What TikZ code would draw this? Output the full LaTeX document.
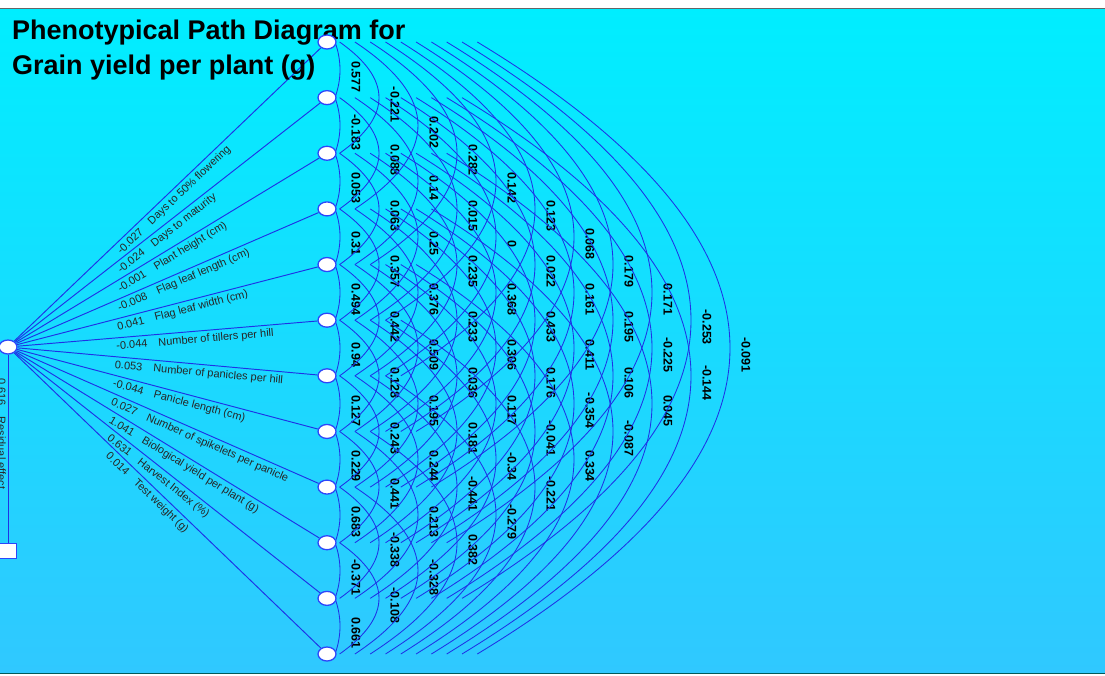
\documentclass[tikz,border=0pt]{standalone}
\usepackage{fontspec}
\setmainfont{Liberation Sans}
\usetikzlibrary{shapes.geometric}
\definecolor{bgtop}{RGB}{0,238,255}
\definecolor{bgbot}{RGB}{48,200,255}
\definecolor{edge}{RGB}{30,50,230}
\definecolor{nodeedge}{RGB}{45,70,250}
\pgfdeclarelayer{back}
\pgfdeclarelayer{wires}
\pgfsetlayers{back,wires,main}
\begin{document}
\begin{tikzpicture}[x=1pt,y=-1pt,
  trait/.style={ellipse, draw=nodeedge, fill=white, line width=1.3pt, minimum width=18pt, minimum height=14pt, inner sep=0pt},
  resid/.style={rectangle, draw=nodeedge, fill=white, line width=1.3pt, minimum width=17pt, minimum height=15pt, inner sep=0pt},
  conn/.style={draw=edge, line width=0.95pt},
  corr/.style={draw=edge, line width=0.85pt},
  pathlbl/.style={font=\fontsize{11}{13}\selectfont, text=black!85, sloped, anchor=north west, inner sep=3.2pt},
  corrlbl/.style={font=\bfseries\fontsize{12.5}{14}\selectfont, rotate=-90, inner sep=0pt},
  titlelbl/.style={font=\bfseries\fontsize{27}{33}\selectfont, anchor=base west, inner sep=0pt}
]
\useasboundingbox (0,0) rectangle (1105,675);
\begin{pgfonlayer}{back}
  \fill[white] (0,0) rectangle (1105,675);
  \shade[top color=bgtop, bottom color=bgbot] (0,8) rectangle (1105,673);
  \draw[black!60, line width=1pt] (0,8) -- (1105,8);
  \draw[teal!70!black, line width=1pt] (0,673.5) -- (1105,673.5);
\end{pgfonlayer}

\node[titlelbl] (title1) at (12,39) {Phenotypical Path Diagram for};
\node[titlelbl] (title2) at (12,74) {Grain yield per plant (g)};

% nodes
\node[trait] (Y) at (8,347) {};
\node[resid] (R) at (8,551) {};
\foreach \i in {1,...,12} {
  \pgfmathsetmacro\yy{42+55.636*(\i-1)}
  \node[trait] (T\i) at (327,\yy) {};
}

\begin{pgfonlayer}{wires}
  \draw[conn] (Y) -- (R);
  \foreach \i/\n/\t in {
    1/-0.027/Days to 50\% flowering,
    2/-0.024/Days to maturity,
    3/-0.001/Plant height (cm),
    4/-0.008/Flag leaf length (cm),
    5/0.041/Flag leaf width (cm),
    6/-0.044/Number of tillers per hill,
    7/0.053/Number of panicles per hill,
    8/-0.044/Panicle length (cm),
    9/0.027/Number of spikelets per panicle,
    10/1.041/Biological yield per plant (g),
    11/0.631/Harvest Index (\%),
    12/0.014/Test weight (g)} {
    \draw[conn] (Y) -- (T\i) node[pathlbl, pos=0.315] (p\i) {\n\hspace{11pt}\t};
  }
  \foreach \i/\j/\v in {
    1/2/0.577, 2/3/-0.183, 3/4/0.053, 4/5/0.31, 5/6/0.494, 6/7/0.94, 7/8/0.127, 8/9/0.229, 9/10/0.683, 10/11/-0.371, 11/12/0.661,
    1/3/-0.221, 2/4/0.088, 3/5/0.063, 4/6/0.357, 5/7/0.442, 6/8/0.128, 7/9/0.243, 8/10/0.441, 9/11/-0.338, 10/12/-0.108,
    1/4/0.202, 2/5/0.14, 3/6/0.25, 4/7/0.376, 5/8/0.509, 6/9/0.195, 7/10/0.244, 8/11/0.213, 9/12/-0.328,
    1/5/0.282, 2/6/0.015, 3/7/0.235, 4/8/0.233, 5/9/0.036, 6/10/0.181, 7/11/-0.441, 8/12/0.382,
    1/6/0.142, 2/7/0, 3/8/0.368, 4/9/0.306, 5/10/0.117, 6/11/-0.34, 7/12/-0.279,
    1/7/0.123, 2/8/0.022, 3/9/0.433, 4/10/0.176, 5/11/-0.041, 6/12/-0.221,
    1/8/0.068, 2/9/0.161, 3/10/0.411, 4/11/-0.354, 5/12/0.334,
    1/9/0.179, 2/10/0.195, 3/11/0.106, 4/12/-0.087,
    1/10/0.171, 2/11/-0.225, 3/12/0.045,
    1/11/-0.253, 2/12/-0.144,
    1/12/-0.091} {
    \pgfmathtruncatemacro\k{\j-\i}
    \pgfmathsetmacro\xo{\k==1 ? 335 : 309+15.3*\k}
    \pgfmathsetmacro\xa{340+39*(\k-1)}
    \pgfmathsetmacro\xc{\xo+4/3*(\xa-\xo)}
    \pgfmathsetmacro\ya{42+55.636*(\i-1)}
    \pgfmathsetmacro\yb{42+55.636*(\j-1)}
    \pgfmathsetmacro\ym{(\ya+\yb)/2}
    \pgfmathsetmacro\cya{\ya+2/3*(\ym-\ya)}
    \pgfmathsetmacro\cyb{\yb+2/3*(\ym-\yb)}
    \coordinate (s\i-\j) at (\xo,\ya);
    \coordinate (e\i-\j) at (\xo,\yb);
    \draw[corr] (s\i-\j) .. controls (\xc,\cya) and (\xc,\cyb) .. (e\i-\j);
    \node[corrlbl] (c\i-\j) at ({\xa+16},{\ym+7}) {\v};
  }
\end{pgfonlayer}

\node[font=\fontsize{11}{13}\selectfont, text=black!85, rotate=-90, anchor=north west, inner sep=0pt] (rlbl) at (6,378) {0.616\hspace{11pt}Residual effect};
\end{tikzpicture}
\end{document}
